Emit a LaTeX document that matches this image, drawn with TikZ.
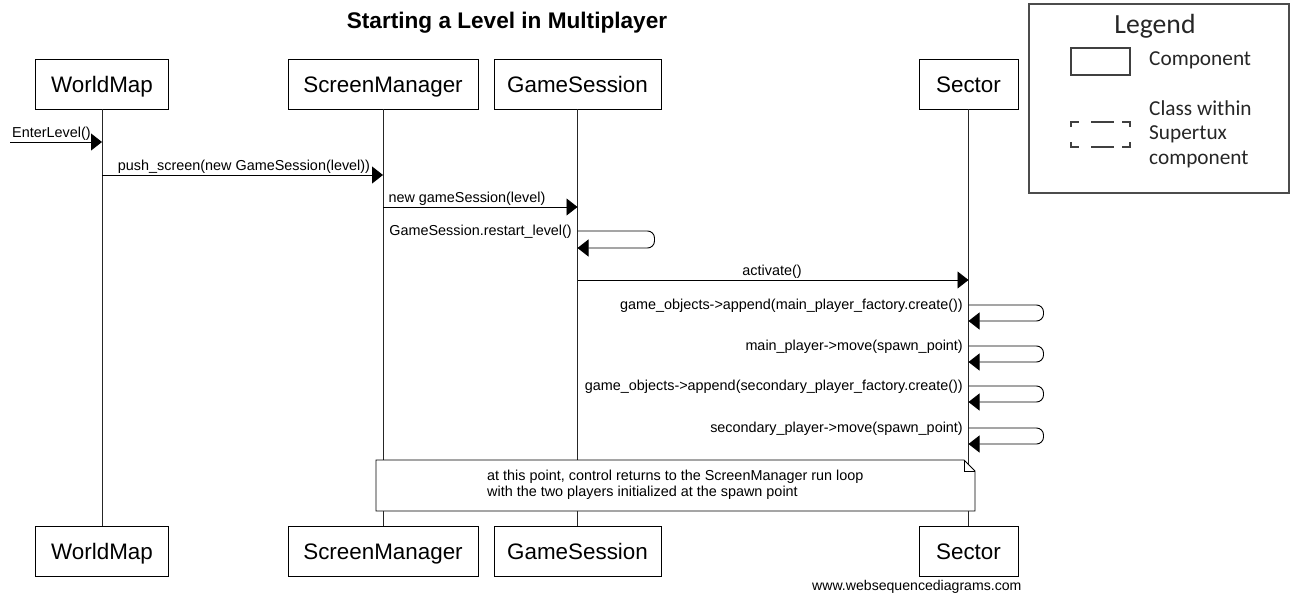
\documentclass[tikz,border=0pt]{standalone}
\usepackage{fontspec}
\setmainfont{Liberation Sans}
\newfontfamily\legendfont{Carlito}
\usetikzlibrary{arrows.meta}
\begin{document}
\begin{tikzpicture}[x=1pt,y=-1pt,
  actor/.style={draw=black, line width=0.9pt, fill=white, inner sep=0pt, minimum height=50pt, text height=16pt, text depth=0pt, font=\fontsize{22.4}{26}\selectfont},
  msg/.style={line width=0.9pt, -{Triangle[length=11pt,width=17pt]}},
  lbl/.style={font=\fontsize{14.4}{16}\selectfont, inner sep=0pt},
  life/.style={line width=0.9pt, draw=black!85},
  loopmsg/.style={msg, rounded corners=7pt},
  legtxt/.style={font=\legendfont\fontsize{21.3}{25}\selectfont, inner sep=0pt, anchor=west, text=black!85}]
\useasboundingbox (0,0) rectangle (1291,595);

% title
\node[font=\bfseries\fontsize{22.6}{26}\selectfont, inner sep=0pt] (title) at (507,23) {Starting a Level in Multiplayer};

% actors
\node[actor, minimum width=133pt] (wmT) at (102,84) {WorldMap};
\node[actor, minimum width=190pt] (smT) at (383,84) {ScreenManager};
\node[actor, minimum width=167pt] (gsT) at (577.5,84) {GameSession};
\node[actor, minimum width=99pt] (seT) at (968.5,84) {Sector};
\node[actor, minimum width=133pt] (wmB) at (102,551) {WorldMap};
\node[actor, minimum width=190pt] (smB) at (383,551) {ScreenManager};
\node[actor, minimum width=167pt] (gsB) at (577.5,551) {GameSession};
\node[actor, minimum width=99pt] (seB) at (968.5,551) {Sector};

% lifelines
\draw[life] (wmT.south) -- (wmB.north);
\draw[life] (smT.south) -- (smB.north);
\draw[life] (gsT.south) -- (gsB.north);
\draw[life] (seT.south) -- (seB.north);

% points on lifelines
\coordinate (inS) at (10,142);
\coordinate (wm1) at (102,142);
\coordinate (wm2) at (102,175);
\coordinate (sm2) at (383,175);
\coordinate (sm3) at (383,207);
\coordinate (gs3) at (577.5,207);
\coordinate (gs4) at (577.5,231);
\coordinate (gs4b) at (577.5,248);
\coordinate (gs5) at (577.5,280);
\coordinate (se5) at (968.5,280);
\coordinate (se6) at (968.5,305);
\coordinate (se6b) at (968.5,321);
\coordinate (se7) at (968.5,346);
\coordinate (se7b) at (968.5,362);
\coordinate (se8) at (968.5,386);
\coordinate (se8b) at (968.5,402);
\coordinate (se9) at (968.5,428);
\coordinate (se9b) at (968.5,444);

% messages
\draw[msg] (inS) -- (wm1);
\node[lbl, anchor=west] (l1) at (12,134) {EnterLevel()};
\draw[msg] (wm2) -- (sm2);
\node[lbl] (l2) at (244,167) {push\_screen(new GameSession(level))};
\draw[msg] (sm3) -- (gs3);
\node[lbl] (l3) at (467,199) {new gameSession(level)};
\draw[loopmsg] (gs4) -- ++(77,0) -- ++(0,17) -- (gs4b);
\node[lbl, anchor=east] (l4) at (572,232) {GameSession.restart\_level()};
\draw[msg] (gs5) -- (se5);
\node[lbl] (l5) at (772,272) {activate()};
\draw[loopmsg] (se6) -- ++(75,0) -- ++(0,16) -- (se6b);
\node[lbl, anchor=east] (l6) at (963,306) {game\_objects->append(main\_player\_factory.create())};
\draw[loopmsg] (se7) -- ++(75,0) -- ++(0,16) -- (se7b);
\node[lbl, anchor=east] (l7) at (963,347) {main\_player->move(spawn\_point)};
\draw[loopmsg] (se8) -- ++(75,0) -- ++(0,16) -- (se8b);
\node[lbl, anchor=east] (l8) at (963,387) {game\_objects->append(secondary\_player\_factory.create())};
\draw[loopmsg] (se9) -- ++(75,0) -- ++(0,16) -- (se9b);
\node[lbl, anchor=east] (l9) at (963,429) {secondary\_player->move(spawn\_point)};

% note
\draw[line width=0.9pt, fill=white] (376,460) -- (964,460) -- (975,471) -- (975,511) -- (376,511) -- cycle;
\draw[line width=0.9pt] (964,460) -- (964,471) -- (975,471);
\node[lbl, anchor=north west, align=left, font=\fontsize{14.4}{16}\selectfont] (note) at (487,470) {at this point, control returns to the ScreenManager run loop\\with the two players initialized at the spawn point};

% watermark
\node[lbl, anchor=west, font=\fontsize{14.1}{16}\selectfont] (wsd) at (812,587) {www.websequencediagrams.com};

% legend
\node[draw=black!70, line width=1.3pt, minimum width=260pt, minimum height=189pt, inner sep=0pt] (legend) at (1159,98.5) {};
\node[font=\legendfont\fontsize{27.7}{32}\selectfont, inner sep=0pt, text=black!85] (legT) at (1155,26) {Legend};
\node[draw=black!75, line width=1.1pt, minimum width=59pt, minimum height=27pt, inner sep=0pt] (legC) at (1100.5,61.5) {};
\node[legtxt] (legCt) at (1149,60) {Component};
\begin{scope}[line width=1.1pt, draw=black!75]
\draw (1071,127) -- (1071,122) -- (1079,122);
\draw (1091,122) -- (1114,122);
\draw (1122,122) -- (1130,122) -- (1130,127);
\draw (1071,142) -- (1071,147) -- (1079,147);
\draw (1091,147) -- (1114,147);
\draw (1122,147) -- (1130,147) -- (1130,142);
\end{scope}
\node[legtxt] (legS1) at (1149,108) {Class within};
\node[legtxt] (legS2) at (1149,134) {Supertux};
\node[legtxt] (legS3) at (1149,159) {component};
\end{tikzpicture}
\end{document}
